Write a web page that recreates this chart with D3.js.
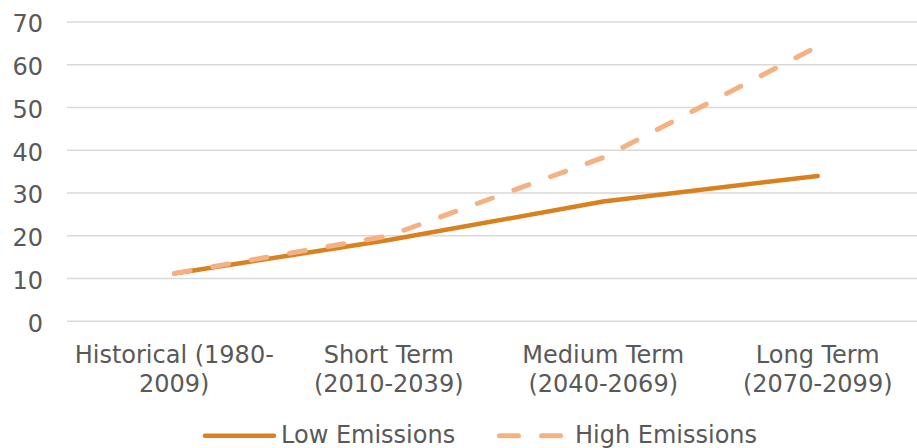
<!DOCTYPE html>
<html>
<head>
<meta charset="utf-8">
<script src="https://cdn.jsdelivr.net/npm/d3@7"></script>
<style>
  body { margin: 0; background: #fff; }
  svg { display: block; font-family: "DejaVu Sans", Verdana, sans-serif; }
</style>
</head>
<body>
<div id="chart"></div>
<script>
const categories = [
  ["Historical (1980-", "2009)"],
  ["Short Term", "(2010-2039)"],
  ["Medium Term", "(2040-2069)"],
  ["Long Term", "(2070-2099)"]
];
const lowEmissions = [11.2, 19, 28, 34];
const highEmissions = [11.2, 20, 38.3, 64.3];
const yTicks = [0, 10, 20, 30, 40, 50, 60, 70];
const seriesNames = ["Low Emissions", "High Emissions"];

const config = {
  width: 917,
  height: 448,
  left: 67,
  right: 925,
  top: 22,
  bottom: 321.3,
  fontSize: 24,
  textColor: "#595959",
  gridColor: "#d9d9d9",
  lowColor: "#d9801f",
  highColor: "#f4b183"
};

const svg = d3.select("#chart").append("svg")
  .attr("width", config.width)
  .attr("height", config.height);

const x = d3.scalePoint()
  .domain(d3.range(categories.length))
  .range([config.left, config.right])
  .padding(0.5);

const y = d3.scaleLinear()
  .domain([0, 70])
  .range([config.bottom, config.top]);

// gridlines
svg.append("g")
  .selectAll("line")
  .data(yTicks)
  .enter()
  .append("line")
  .attr("x1", config.left)
  .attr("x2", config.right)
  .attr("y1", d => y(d))
  .attr("y2", d => y(d))
  .attr("stroke", config.gridColor)
  .attr("stroke-width", 1.5);

// y labels
svg.append("g")
  .selectAll("text")
  .data(yTicks)
  .enter()
  .append("text")
  .attr("x", 43)
  .attr("y", d => y(d))
  .attr("dy", "0.43em")
  .attr("text-anchor", "end")
  .attr("font-size", config.fontSize)
  .attr("fill", config.textColor)
  .text(d => d);

// x labels, two lines each
const xl = svg.append("g")
  .selectAll("text")
  .data(categories)
  .enter()
  .append("text")
  .attr("text-anchor", "middle")
  .attr("font-size", config.fontSize)
  .attr("fill", config.textColor);
xl.append("tspan")
  .attr("x", (d, i) => x(i))
  .attr("y", 363)
  .text(d => d[0]);
xl.append("tspan")
  .attr("x", (d, i) => x(i))
  .attr("y", 392)
  .text(d => d[1]);

const line = d3.line()
  .x((d, i) => x(i))
  .y(d => y(d));

svg.append("path")
  .attr("d", line(lowEmissions))
  .attr("fill", "none")
  .attr("stroke", config.lowColor)
  .attr("stroke-width", 4.5)
  .attr("stroke-linecap", "round")
  .attr("stroke-linejoin", "round");

svg.append("path")
  .attr("d", line(highEmissions))
  .attr("fill", "none")
  .attr("stroke", config.highColor)
  .attr("stroke-width", 5)
  .attr("stroke-dasharray", "16 23")
  .attr("stroke-linecap", "round")
  .attr("stroke-linejoin", "round");

// legend
const legendY = 435.7;
svg.append("line")
  .attr("x1", 205).attr("x2", 274)
  .attr("y1", legendY).attr("y2", legendY)
  .attr("stroke", config.lowColor)
  .attr("stroke-width", 4.5)
  .attr("stroke-linecap", "round");
svg.append("text")
  .attr("x", 281).attr("y", 443)
  .attr("font-size", config.fontSize)
  .attr("fill", config.textColor)
  .text(seriesNames[0]);

svg.append("line")
  .attr("x1", 499.5).attr("x2", 560.5)
  .attr("y1", legendY).attr("y2", legendY)
  .attr("stroke", config.highColor)
  .attr("stroke-width", 5)
  .attr("stroke-dasharray", "19 23")
  .attr("stroke-linecap", "round");
svg.append("text")
  .attr("x", 575).attr("y", 443)
  .attr("font-size", config.fontSize)
  .attr("fill", config.textColor)
  .text(seriesNames[1]);
</script>
</body>
</html>
